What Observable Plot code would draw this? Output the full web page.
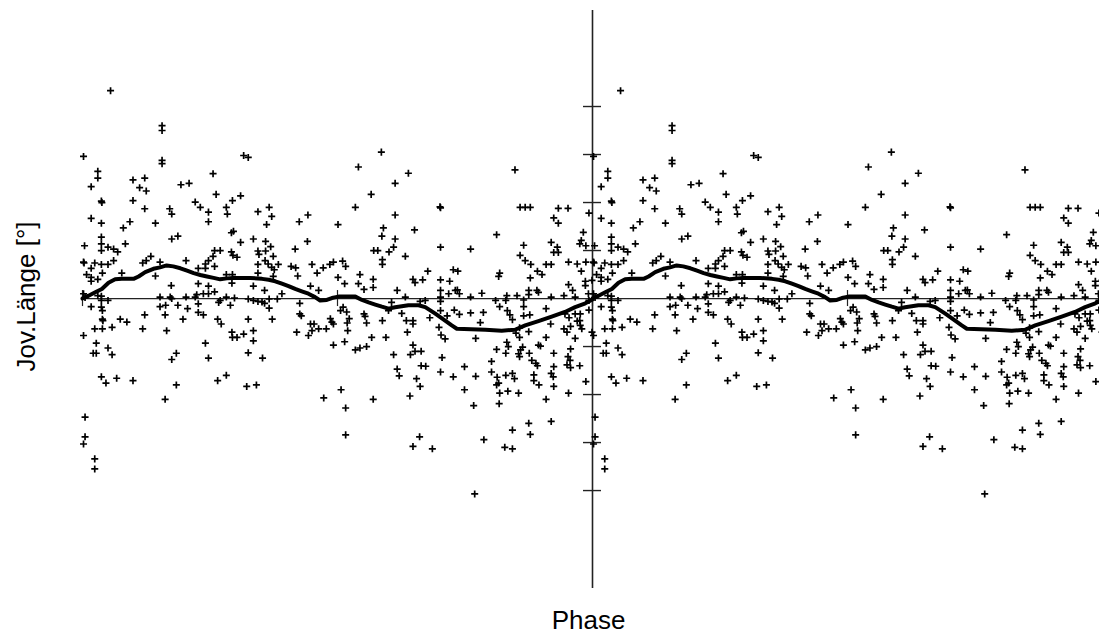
<!DOCTYPE html>
<html><head><meta charset="utf-8">
<script src="https://cdn.jsdelivr.net/npm/d3@7"></script>
<script src="https://cdn.jsdelivr.net/npm/@observablehq/plot@0.6"></script>
<style>html,body{margin:0;padding:0;background:#fff;overflow:hidden}#chart svg{display:block}</style>
</head><body><div id="chart"></div>
<script>
// observations: [phase (0..1), Jov. Länge deviation]
const obs = [
[0.055,4.33],[0.156,3.60],[0.156,3.50],[0.156,2.88],[0.156,2.81],[0.002,2.96],[0.316,2.98],[0.325,2.94],[0.030,2.65],[0.030,2.51],[0.017,2.33],[0.037,2.03],[0.038,2.00],
[0.099,2.47],[0.122,2.51],[0.112,2.31],[0.125,2.24],[0.099,2.04],[0.122,1.87],
[0.193,2.37],[0.209,2.40],[0.256,2.60],[0.262,2.17],
[0.221,2.01],[0.231,1.90],[0.247,1.80],[0.247,1.60],[0.282,1.90],[0.284,1.76],[0.294,2.04],[0.310,2.14],
[0.171,1.87],[0.175,1.76],
[0.017,1.67],[0.037,1.57],[0.093,1.60],[0.080,1.47],[0.143,1.57],
[0.175,1.24],[0.187,1.30],
[0.292,1.37],[0.296,1.40],[0.310,1.17],
[0.004,1.10],[0.037,1.28],[0.037,1.14],[0.037,1.00],[0.050,1.07],[0.061,1.03],[0.069,0.97],[0.084,1.14],
[0.002,0.76],[0.003,0.74],[0.024,0.74],[0.017,0.63],[0.037,0.71],[0.050,0.71],[0.061,0.79],[0.008,0.50],[0.017,0.44],[0.017,0.36],[0.030,0.40],[0.039,0.53],[0.077,0.53],
[0.118,0.74],[0.125,0.79],[0.134,0.88],[0.152,0.76],[0.143,0.47],[0.203,0.79],
[0.259,1.00],[0.270,1.00],[0.256,0.88],[0.247,0.79],[0.241,0.72],[0.241,0.63],[0.227,0.63],[0.259,0.67],[0.292,0.97],[0.295,0.90],[0.303,0.86],
[0.282,0.50],[0.294,0.50],[0.174,0.27],[0.227,0.31],[0.247,0.26],[0.237,0.10],[0.247,0.10],[0.259,0.14],[0.224,0.08],[0.293,0.32],
[0.002,0.10],[0.005,0.02],[0.030,0.06],[0.037,0.05],[0.037,-0.04],[0.050,-0.04],[0.152,0.03],[0.172,0.03],[0.175,0.00],[0.203,0.03],[0.221,0.03],[0.270,-0.04],[0.282,0.03],[0.298,0.01],[0.325,-0.01],
[0.017,-0.17],[0.037,-0.18],[0.039,-0.25],[0.152,-0.17],[0.163,-0.14],[0.187,-0.14],[0.206,-0.21],[0.227,-0.11],[0.227,-0.29],[0.237,-0.34],[0.267,-0.08],[0.290,-0.14],
[0.039,-0.43],[0.040,-0.46],[0.024,-0.63],[0.039,-0.63],[0.058,-0.60],[0.074,-0.43],[0.087,-0.49],[0.118,-0.63],[0.122,-0.34],[0.162,-0.34],[0.165,-0.67],[0.197,-0.43],[0.265,-0.43],[0.272,-0.53],[0.325,-0.43],
[0.293,-0.70],[0.294,-0.81],[0.303,-0.81],[0.316,-0.74],[0.027,-0.93],[0.050,-1.03],[0.058,-1.17],[0.021,-1.14],[0.027,-1.14],[0.241,-0.93],[0.247,-1.24],[0.175,-1.27],[0.184,-1.14],[0.325,-1.13],
[0.037,-1.63],[0.046,-1.76],[0.067,-1.66],[0.099,-1.71],[0.184,-1.80],[0.265,-1.71],[0.282,-1.60],[0.322,-1.83],
[0.162,-2.10],
[0.005,-2.47],[0.005,-2.88],[0.002,-3.03],[0.024,-3.34],[0.024,-3.55],
[0.002,-0.77],
[0.586,3.05],[0.541,2.74],[0.613,2.40],[0.639,2.61],[0.566,2.17],[0.535,1.90],[0.613,1.74],[0.590,1.47],[0.587,1.30],[0.651,1.43],[0.501,1.54],
[0.344,1.81],[0.366,1.90],[0.371,1.71],[0.361,1.54],[0.335,1.24],[0.344,0.99],[0.346,0.92],[0.359,1.19],[0.359,0.99],[0.369,1.08],[0.374,0.88],[0.358,0.79],[0.364,0.72],[0.371,0.65],[0.376,0.60],[0.384,0.71],[0.344,0.71],[0.344,0.53],[0.374,0.46],
[0.425,1.60],[0.442,1.74],[0.441,1.19],[0.417,1.03],[0.409,0.67],[0.418,0.64],[0.422,0.47],[0.450,0.71],[0.460,0.53],[0.472,0.64],[0.485,0.71],[0.492,0.76],[0.501,0.44],[0.510,0.78],[0.516,0.67],[0.514,0.31],[0.544,0.50],[0.541,0.31],[0.552,0.19],[0.570,0.40],[0.570,0.23],[0.571,1.00],[0.579,1.00],[0.588,0.81],[0.588,0.71],[0.601,0.97],[0.610,1.07],[0.613,1.24],[0.633,0.88],[0.617,0.17],[0.648,0.40],[0.652,0.33],
[0.335,0.26],[0.357,0.17],[0.391,0.10],[0.447,0.26],[0.463,0.17],
[0.335,-0.04],[0.344,-0.06],[0.352,-0.07],[0.357,-0.10],[0.366,-0.01],[0.382,-0.01],[0.366,-0.20],[0.372,-0.43],
[0.426,-0.10],[0.426,-0.32],[0.429,-0.36],[0.447,-0.53],[0.454,-0.53],[0.450,-0.67],[0.463,-0.63],[0.478,-0.63],[0.486,-0.42],[0.489,-0.49],[0.492,-0.53],[0.443,-0.77],[0.420,-0.70],[0.506,-0.25],[0.511,-0.18],[0.518,-0.28],[0.523,-0.42],[0.519,-0.51],[0.520,-0.67],[0.492,-0.97],[0.514,-0.90],[0.535,-1.07],[0.544,-1.03],[0.557,-1.00],[0.552,-0.32],[0.554,-0.37],[0.557,-0.51],[0.567,-0.81],[0.588,-0.46],[0.595,-0.81],[0.600,-0.25],[0.606,-0.08],[0.626,-0.31],[0.633,0.03],[0.635,-0.46],[0.637,-0.70],[0.648,-0.46],[0.648,-0.53],[0.648,-0.97],[0.643,-1.17],[0.652,-1.10],[0.610,-1.17],[0.617,-1.47],[0.621,-1.61],[0.655,-1.67],
[0.335,-0.67],[0.335,-0.88],[0.353,-1.24],[0.341,-1.80],
[0.473,-2.07],[0.507,-1.90],[0.516,-2.28],[0.570,-2.10],[0.516,-2.84],[0.642,-2.03],[0.648,-3.08],
[0.848,2.68],[0.702,1.89],[0.701,1.91],[0.858,1.90],[0.868,1.90],[0.878,1.90],[0.933,1.88],[0.952,1.88],[0.993,1.78],[0.924,1.68],[0.933,1.57],
[0.812,1.33],[0.982,1.38],[0.978,1.21],[0.975,1.14],
[0.702,1.07],[0.761,1.03],[0.865,1.11],[0.919,1.17],[0.931,1.07],[0.987,1.10],
[0.858,0.90],[0.868,0.79],[0.879,0.71],[0.909,0.71],[0.919,0.71],[0.953,0.76],[0.970,0.72],[0.987,0.76],
[0.818,0.53],[0.816,0.46],[0.878,0.43],[0.892,0.57],[0.901,0.50],[0.924,0.96],[0.933,0.96],[0.978,0.57],[0.986,0.36],
[0.677,0.57],[0.667,0.39],[0.702,0.39],[0.720,0.36],[0.727,0.60],[0.736,0.57],[0.731,0.17],[0.735,0.18],[0.739,0.10],[0.718,0.10],[0.702,0.17],
[0.783,0.11],[0.832,0.06],[0.852,0.06],[0.875,0.17],[0.875,0.08],[0.891,0.17],[0.894,0.13],[0.944,0.06],[0.953,0.29],[0.961,0.17],[0.986,0.27],[0.992,0.10],[0.999,0.38],
[0.662,-0.06],[0.672,-0.04],[0.702,0.03],[0.702,-0.06],[0.761,0.03],[0.810,-0.04],[0.830,-0.04],[0.865,-0.03],[0.919,0.03],[0.966,0.03],[0.993,-0.04],
[0.702,-0.25],[0.715,-0.36],[0.729,-0.24],[0.739,-0.33],[0.761,-0.30],[0.786,-0.29],[0.780,-0.50],[0.681,-0.40],[0.699,-0.60],[0.703,-0.76],[0.711,-0.84],[0.771,-0.83],
[0.818,-0.17],[0.833,-0.25],[0.838,-0.34],[0.843,-0.44],[0.865,-0.17],[0.865,-0.36],[0.877,-0.34],[0.909,-0.21],[0.918,-0.53],[0.857,-0.61],[0.850,-0.72],[0.857,-0.81],[0.875,-0.69],[0.909,-0.81],
[0.946,-0.32],[0.954,-0.40],[0.966,-0.32],[0.976,-0.32],[0.970,-0.47],[0.976,-0.56],[0.979,-0.63],[0.975,-0.46],[0.993,-0.24],[0.999,-0.70],[0.944,-0.63],[0.957,-0.58],[0.950,-0.70],[0.966,-0.83],
[0.812,-1.06],[0.832,-0.91],[0.835,-1.00],[0.830,-1.14],[0.859,-1.07],[0.863,-1.01],[0.855,-1.15],[0.857,-1.21],[0.876,-1.14],[0.881,-1.29],[0.889,-1.35],[0.894,-0.97],[0.898,-0.99],[0.892,-1.40],[0.924,-1.14],[0.957,-1.05],[0.952,-1.21],[0.956,-1.29],[0.950,-1.38],[0.957,-1.44],[0.975,-1.40],
[0.664,-1.10],[0.673,-1.41],[0.664,-1.40],[0.705,-1.23],[0.749,-1.42],[0.802,-1.31],[0.802,-1.53],[0.771,-1.62],[0.727,-1.63],[0.702,-1.53],[0.813,-1.64],[0.816,-1.76],[0.812,-1.80],[0.830,-1.60],[0.843,-1.56],[0.847,-1.67],[0.818,-1.97],[0.834,-1.93],[0.855,-1.97],[0.885,-1.59],[0.895,-1.80],[0.885,-1.71],[0.924,-1.42],[0.919,-1.56],[0.923,-1.63],[0.924,-1.83],[0.953,-1.97],[0.987,-1.73],[0.909,-2.10],[0.662,-1.83],[0.749,-1.90],[0.817,-2.19],[0.767,-2.23],
[0.661,-2.88],[0.686,-3.13],[0.787,-2.94],[0.828,-3.10],[0.843,-3.13],[0.843,-2.74],[0.875,-2.60],[0.878,-2.83],[0.919,-2.56],[0.769,-4.07]
];
// running mean: [phase, Jov. Länge]
const meanCurve = [
[0.000,0.00],[0.012,0.06],[0.025,0.13],[0.038,0.20],[0.051,0.33],[0.064,0.40],[0.077,0.41],[0.100,0.41],[0.110,0.46],[0.123,0.55],[0.139,0.62],[0.152,0.65],[0.165,0.69],[0.178,0.67],[0.192,0.63],[0.205,0.58],[0.218,0.53],[0.231,0.49],[0.244,0.46],[0.257,0.43],[0.270,0.40],[0.283,0.42],[0.296,0.43],[0.329,0.43],
[0.352,0.41],[0.365,0.39],[0.378,0.36],[0.391,0.31],[0.404,0.26],[0.417,0.20],[0.430,0.15],[0.443,0.10],[0.456,0.03],[0.466,-0.04],[0.479,-0.03],[0.489,0.01],[0.502,0.04],[0.535,0.04],[0.548,-0.03],[0.561,-0.08],[0.574,-0.125],[0.587,-0.17],[0.600,-0.21],[0.613,-0.18],[0.626,-0.16],[0.639,-0.14],[0.659,-0.14],
[0.672,-0.18],[0.691,-0.31],[0.711,-0.46],[0.724,-0.56],[0.734,-0.63],[0.790,-0.65],[0.822,-0.67],[0.848,-0.65],[0.868,-0.56],[0.894,-0.47],[0.920,-0.375],[0.946,-0.28],[0.966,-0.18],[0.986,-0.10],[1.000,-0.02]
];
const yTicks = [-4,-3,-2,-1,1,2,3,4];
const xTicks = [-1,-0.5,0,0.5,1];
const cycles = [-1, 0];
const points = cycles.flatMap(c => obs.map(([p, v]) => ({phase: p + c, lon: v})));
const curve = cycles.flatMap(c => meanCurve.map(([p, v]) => ({phase: p + c, lon: v})));

const chart = Plot.plot({
  width: 1099, height: 634,
  marginLeft: 82, marginRight: -3, marginTop: 10, marginBottom: 46,
  x: {domain: [-1, 1], range: [82, 1102], axis: null},
  y: {domain: [-6.04, 6], range: [588, 10], axis: null},
  style: {fontFamily: "Arial, 'Liberation Sans', sans-serif", background: "white", color: "black"},
  marks: [
    Plot.ruleY([0], {stroke: "#222", strokeWidth: 1.2}),
    Plot.ruleX([0], {stroke: "#222", strokeWidth: 1.6}),
    Plot.ruleY(yTicks, {x1: 0, x2: 0, insetLeft: -9, insetRight: -9, stroke: "#222", strokeWidth: 1.4}),
    Plot.ruleX(xTicks, {y1: 0, y2: 0, insetTop: -8, insetBottom: -8, stroke: "#222", strokeWidth: 1.2}),
    Plot.dot(points, {x: "phase", y: "lon", symbol: "plus", r: 2.4, stroke: "black", strokeWidth: 1.7}),
    Plot.line(curve, {x: "phase", y: "lon", stroke: "black", strokeWidth: 4, strokeLinejoin: "round"}),
    Plot.text(["Phase"], {frameAnchor: "bottom", text: d => d, lineAnchor: "bottom", dx: -4, dy: 40, fontSize: 26, fill: "black"}),
    Plot.text(["Jov.Länge [°]"], {frameAnchor: "left", text: d => d, rotate: -90, textAnchor: "middle", lineAnchor: "bottom", dx: -48, dy: -3, fontSize: 26, fill: "black"})
  ]
});
document.getElementById("chart").appendChild(chart);
</script>
</body></html>
